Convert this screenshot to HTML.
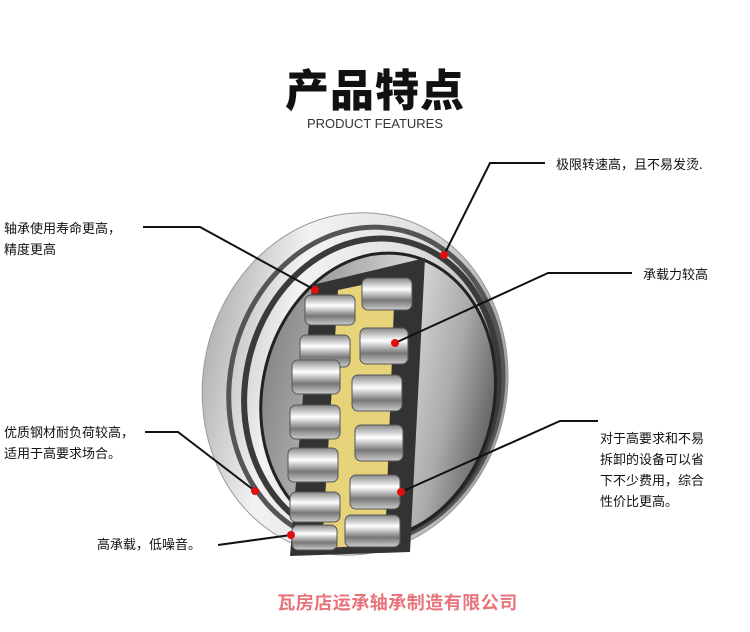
<!DOCTYPE html>
<html><head><meta charset="utf-8"><style>
body{margin:0;background:#fff;width:750px;height:632px;overflow:hidden;position:relative;font-family:"Liberation Sans","Noto Sans CJK SC",sans-serif}
.t{position:absolute;font-size:13px;color:#111;line-height:21px;white-space:nowrap;font-family:"Noto Sans CJK SC",sans-serif}
</style></head><body>
<div style="position:absolute;left:0;width:750px;top:55px;text-align:center;font-size:44px;font-weight:900;color:#111;font-family:'Noto Sans CJK SC',sans-serif;letter-spacing:1px">产品特点</div>
<div style="position:absolute;left:0;width:750px;top:116px;text-align:center;font-size:13px;color:#333">PRODUCT FEATURES</div>
<div style="position:absolute;left:0;width:750px;top:589px;text-align:center;font-size:18px;font-weight:bold;color:#e8737a;font-family:'Noto Sans CJK SC',sans-serif;letter-spacing:0.5px;padding-left:45px;box-sizing:border-box">瓦房店运承轴承制造有限公司</div>

<svg width="750" height="632" style="position:absolute;left:0;top:0">
<defs>
<linearGradient id="ring" x1="0" x2="1" y1="0" y2="0"><stop offset="0" stop-color="#b5b5b5"/><stop offset="0.25" stop-color="#f2f2f2"/><stop offset="0.6" stop-color="#e0e0e0"/><stop offset="1" stop-color="#a0a0a0"/></linearGradient>
<linearGradient id="roll" x1="0" x2="0" y1="0" y2="1"><stop offset="0" stop-color="#888"/><stop offset="0.35" stop-color="#fff"/><stop offset="0.7" stop-color="#777"/><stop offset="1" stop-color="#ccc"/></linearGradient>
<linearGradient id="inner" x1="0" x2="1"><stop offset="0" stop-color="#888"/><stop offset="0.55" stop-color="#d8d8d8"/><stop offset="0.8" stop-color="#aaa"/><stop offset="1" stop-color="#666"/></linearGradient>
</defs>
<g transform="rotate(12 360 385)">
<ellipse cx="355" cy="385" rx="152" ry="172" fill="url(#ring)" stroke="#999" stroke-width="1"/>
<ellipse cx="366" cy="385" rx="136" ry="160" fill="none" stroke="#555" stroke-width="5"/>
<ellipse cx="372" cy="387" rx="126" ry="152" fill="none" stroke="#3a3a3a" stroke-width="6"/>
<ellipse cx="380" cy="392" rx="116" ry="144" fill="url(#inner)"/>
<ellipse cx="380" cy="392" rx="116" ry="144" fill="none" stroke="#222" stroke-width="3"/>
</g>
<polygon points="312,285 425,258 410,552 290,556" fill="#333"/>
<polygon points="338,290 395,278 385,545 322,548" fill="#e6d37a"/>
<g stroke="#555" stroke-width="1">
<rect x="305" y="295" width="50" height="30" rx="6" fill="url(#roll)"/>
<rect x="362" y="278" width="50" height="32" rx="6" fill="url(#roll)"/>
<rect x="300" y="335" width="50" height="32" rx="6" fill="url(#roll)"/>
<rect x="360" y="328" width="48" height="36" rx="6" fill="url(#roll)"/>
<rect x="292" y="360" width="48" height="34" rx="6" fill="url(#roll)"/>
<rect x="352" y="375" width="50" height="36" rx="6" fill="url(#roll)"/>
<rect x="290" y="405" width="50" height="34" rx="6" fill="url(#roll)"/>
<rect x="355" y="425" width="48" height="36" rx="6" fill="url(#roll)"/>
<rect x="288" y="448" width="50" height="34" rx="6" fill="url(#roll)"/>
<rect x="350" y="475" width="50" height="34" rx="6" fill="url(#roll)"/>
<rect x="290" y="492" width="50" height="30" rx="6" fill="url(#roll)"/>
<rect x="345" y="515" width="55" height="32" rx="6" fill="url(#roll)"/>
<rect x="292" y="525" width="45" height="25" rx="6" fill="url(#roll)"/>
</g>
<g stroke="#111" stroke-width="2" fill="none">
<polyline points="143,227 200,227 315,290"/>
<polyline points="545,163 490,163 444,255"/>
<polyline points="632,273 548,273 395,343"/>
<polyline points="145,432 178,432 255,491"/>
<polyline points="598,421 560,421 401,492"/>
<polyline points="218,545 291,535"/>
</g>
<g fill="#e01010">
<circle cx="315" cy="290" r="4"/><circle cx="444" cy="255" r="4"/><circle cx="395" cy="343" r="4"/>
<circle cx="255" cy="491" r="4"/><circle cx="401" cy="492" r="4"/><circle cx="291" cy="535" r="4"/>
</g>
</svg>
<div class="t" style="left:4px;top:217px">轴承使用寿命更高，<br>精度更高</div>
<div class="t" style="left:556px;top:153px">极限转速高，且不易发烫.</div>
<div class="t" style="left:643px;top:263px">承载力较高</div>
<div class="t" style="left:4px;top:421px">优质钢材耐负荷较高，<br>适用于高要求场合。</div>
<div class="t" style="left:600px;top:427px;line-height:21px">对于高要求和不易<br>拆卸的设备可以省<br>下不少费用，综合<br>性价比更高。</div>
<div class="t" style="left:97px;top:533px">高承载，低噪音。</div>
</body></html>
